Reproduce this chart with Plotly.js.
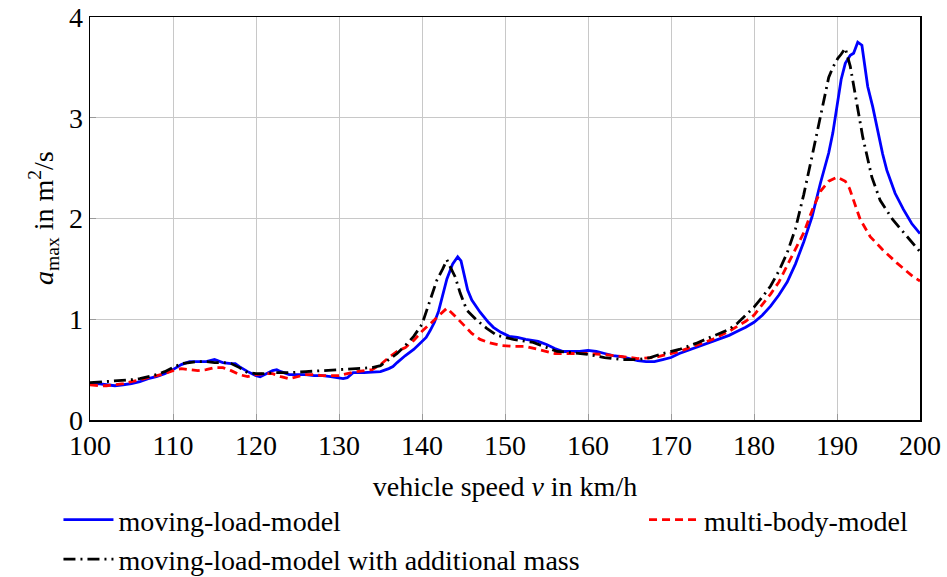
<!DOCTYPE html>
<html>
<head>
<meta charset="utf-8">
<script src="https://cdn.plot.ly/plotly-3.0.1.min.js"></script>
<style>html,body{margin:0;padding:0;background:#fff;}#chart{width:947px;height:577px;}</style>
</head>
<body>
<div id="chart"></div>
<script>
// moving-load-model (blue)
const vBlue = [100,101,102,103,104,105,106,107,108,109,110,111,112,113,114,115,116,117,117.5,118,119,120,120.5,121,122,122.5,123,124,125,126,127,128,129,130,130.5,131,131.7,133,135,136,136.5,137,138,139,140,140.5,141,141.5,142,142.5,143,143.7,144.3,144.7,145,145.5,146,147,148,148.6,149.5,150.5,151.5,152.5,154,155,156,157,158,159,160,161,162,163,164,165,166,167,168,169,170,171,172,173,174,175,176,177,178,179,180,181,182,183,184,185,186,187,188,189,189.5,190,190.5,191,191.6,192,192.5,193,193.7,194.3,195,195.5,196,197,198,199,200];
const aBlue = [0.36,0.36,0.35,0.34,0.35,0.36,0.38,0.41,0.43,0.46,0.50,0.55,0.58,0.58,0.58,0.60,0.57,0.56,0.56,0.53,0.48,0.44,0.43,0.45,0.49,0.50,0.48,0.45,0.45,0.45,0.44,0.44,0.43,0.42,0.41,0.42,0.47,0.47,0.48,0.51,0.53,0.57,0.64,0.70,0.78,0.82,0.89,0.97,1.08,1.24,1.40,1.55,1.62,1.58,1.47,1.29,1.19,1.07,0.97,0.92,0.87,0.83,0.82,0.80,0.78,0.75,0.71,0.68,0.68,0.68,0.69,0.68,0.66,0.64,0.63,0.61,0.59,0.58,0.58,0.60,0.62,0.66,0.69,0.72,0.75,0.78,0.81,0.84,0.88,0.92,0.97,1.04,1.13,1.24,1.37,1.55,1.77,2.02,2.35,2.65,2.85,3.14,3.38,3.54,3.62,3.64,3.75,3.72,3.31,3.11,2.83,2.64,2.48,2.25,2.09,1.95,1.85];

// moving-load-model with additional mass (black dash-dot)
const vBlack = [100,102,104,105,106,107,108,109,110,111,112,113,114,115,116,117,118,119,120,121,122,124,126,128,130,132,134,135,136,137,138,139,140,141,141.8,142.5,143,143.4,144,144.6,145.4,146.6,147.8,149,151,153.4,155,156.3,158,160,162,164,166,167.5,169,171,173,175,177,178,179,180,181,182,183,184,185,186,187,188,189,189.5,190.1,190.5,191,191.6,192.4,193.1,194.2,195.2,196.7,198.4,200];
const aBlack = [0.37,0.38,0.39,0.40,0.41,0.43,0.45,0.48,0.52,0.56,0.57,0.58,0.58,0.57,0.57,0.56,0.52,0.47,0.46,0.46,0.47,0.47,0.48,0.49,0.50,0.51,0.52,0.54,0.60,0.66,0.74,0.83,0.95,1.19,1.39,1.50,1.59,1.52,1.42,1.26,1.09,0.99,0.91,0.84,0.80,0.77,0.72,0.68,0.67,0.65,0.62,0.60,0.60,0.62,0.66,0.70,0.76,0.83,0.90,0.96,1.04,1.12,1.22,1.33,1.48,1.66,1.90,2.24,2.62,3.00,3.40,3.50,3.59,3.63,3.69,3.51,3.14,2.81,2.41,2.18,1.99,1.82,1.67];

// multi-body-model (red dashed)
const vRed = [100,101,102,103,104,105,106,107,108,109,110,111,112,113,114,115,116,117,118,119,120,121,122,123,124,125,126,127,128,130,131,132,134,135,136,137,138,139,140,141,142,143,144,145,146,147,148,149.5,151,152.5,154,155,156,158,160,162,164,166,168,169,171,173,175,177,179,180,181,182,183,184,185,186,187,188,189,190,191,191.5,192,192.8,194,195.5,197.2,199.2,200];
const aRed = [0.35,0.34,0.34,0.35,0.36,0.38,0.40,0.42,0.44,0.46,0.49,0.51,0.50,0.49,0.50,0.52,0.52,0.49,0.45,0.43,0.45,0.46,0.46,0.43,0.41,0.43,0.45,0.45,0.44,0.44,0.46,0.48,0.50,0.55,0.62,0.68,0.72,0.79,0.88,0.96,1.04,1.11,1.03,0.94,0.86,0.80,0.77,0.74,0.73,0.73,0.70,0.68,0.66,0.66,0.66,0.65,0.63,0.61,0.62,0.64,0.68,0.74,0.80,0.88,0.98,1.04,1.14,1.25,1.37,1.53,1.69,1.86,2.08,2.27,2.37,2.41,2.37,2.30,2.18,1.99,1.82,1.69,1.56,1.42,1.38];

const xTicks = [100,110,120,130,140,150,160,170,180,190,200];
const yTicks = [0,1,2,3,4];
const xTitle = 'vehicle speed <i>v</i> in km/h';
const yTitle = '<i>a</i><sub>max</sub> in m<sup>2</sup>/s';

const FONT = '"Liberation Serif", "Times New Roman", serif';

const traces = [
  {x: vBlue, y: aBlue, type: 'scatter', mode: 'lines', name: 'moving-load-model',
   line: {color: '#0000ff', width: 2.8}, legend: 'legend', legendgroup: 'g1'},
  {x: vRed, y: aRed, type: 'scatter', mode: 'lines', name: 'multi-body-model',
   line: {color: '#ff0000', width: 2.8, dash: '8px,5px'}, legend: 'legend2', legendgroup: 'g2'},
  {x: vBlack, y: aBlack, type: 'scatter', mode: 'lines', name: 'moving-load-model with additional mass',
   line: {color: '#000000', width: 2.8, dash: '12px,5px,2px,5px'}, legend: 'legend', legendgroup: 'g3'}
];

const layout = {
  width: 947, height: 577,
  margin: {l: 90, r: 27, t: 17, b: 157, autoexpand: false},
  paper_bgcolor: '#fff', plot_bgcolor: '#fff',
  font: {family: FONT, size: 28, color: '#000'},
  showlegend: true,
  xaxis: {
    range: [100, 200], tickvals: xTicks, ticktext: xTicks.map(String),
    showgrid: true, gridcolor: '#c8c8c8', gridwidth: 1,
    showline: true, linecolor: '#000', linewidth: 1.5, mirror: true,
    ticks: 'inside', ticklen: 6, tickcolor: '#999', zeroline: false,
    tickfont: {family: FONT, size: 28},
    title: {text: xTitle, font: {family: FONT, size: 28}, standoff: 16}
  },
  yaxis: {
    range: [0, 4], tickvals: yTicks, ticktext: yTicks.map(String),
    showgrid: true, gridcolor: '#c8c8c8', gridwidth: 1,
    showline: true, linecolor: '#000', linewidth: 1.5, mirror: true,
    ticks: 'inside', ticklen: 6, tickcolor: '#999', zeroline: false,
    tickfont: {family: FONT, size: 28}
  },
  annotations: [{
    text: yTitle, xref: 'paper', yref: 'paper', x: -0.056, y: 0.5,
    xanchor: 'center', yanchor: 'middle', textangle: -90, showarrow: false,
    font: {family: FONT, size: 28, color: '#000'}
  }],
  legend: {
    x: -0.038, y: -0.186, xanchor: 'left', yanchor: 'top', orientation: 'v',
    bgcolor: 'rgba(0,0,0,0)', font: {family: FONT, size: 28}, tracegroupgap: 0,
    itemwidth: 50
  },
  legend2: {
    x: 0.6675, y: -0.186, xanchor: 'left', yanchor: 'top', orientation: 'v',
    bgcolor: 'rgba(0,0,0,0)', font: {family: FONT, size: 28},
    itemwidth: 50
  }
};

Plotly.newPlot('chart', traces, layout, {displayModeBar: false, staticPlot: true});
</script>
</body>
</html>
